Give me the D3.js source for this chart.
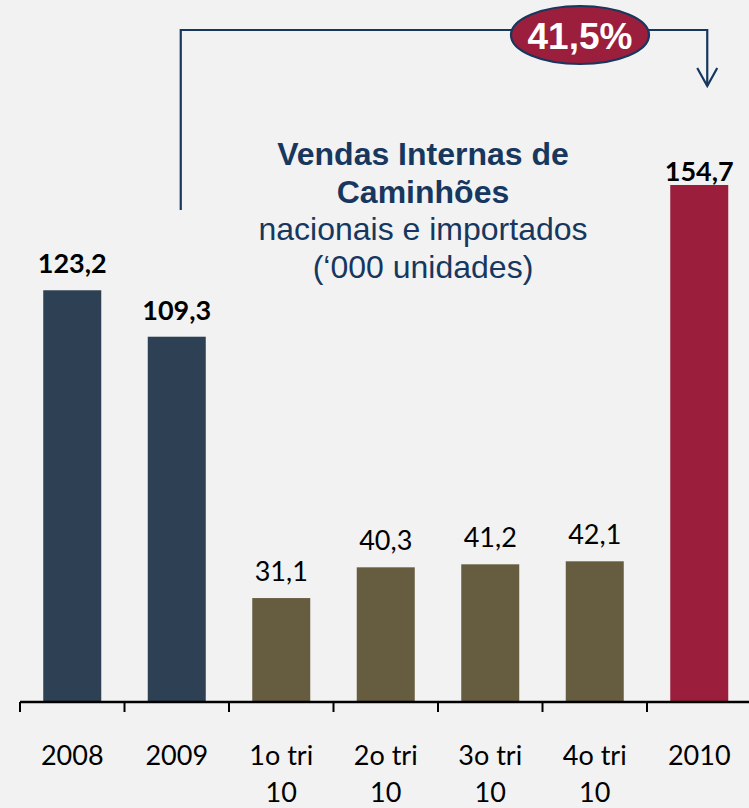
<!DOCTYPE html>
<html>
<head>
<meta charset="utf-8">
<script src="https://cdn.jsdelivr.net/npm/d3@7"></script>
<style>
  body { margin: 0; background: #f2f2f2; }
  svg { display: block; background: #f2f2f2; }
  .val, .tick-label { font-family: Lato, "Open Sans", sans-serif; font-size: 27px; fill: #000; }
  .title { font-family: "Liberation Sans", Arial, sans-serif; font-size: 32px; fill: #17375e; }
</style>
</head>
<body>
<div id="chart"></div>
<script>
// data
var categories = ["2008", "2009", "1o tri 10", "2o tri 10", "3o tri 10", "4o tri 10", "2010"];
var labelLines = [["2008"], ["2009"], ["1o tri", "10"], ["2o tri", "10"], ["3o tri", "10"], ["4o tri", "10"], ["2010"]];
var values = [123.2, 109.3, 31.1, 40.3, 41.2, 42.1, 154.7];
var kinds = ["year", "year", "quarter", "quarter", "quarter", "quarter", "total"];
var growth = "41,5%";
var titleLines = ["Vendas Internas de", "Caminhões", "nacionais e importados", "(‘000 unidades)"];

var width = 749, height = 808;
var colors = { year: "#2e4053", quarter: "#665c3f", total: "#9b1e3c" };
var navy = "#17375e";

var svg = d3.select("#chart").append("svg")
  .attr("width", width)
  .attr("height", height);

var x = d3.scaleBand()
  .domain(categories)
  .range([20, 751.5])
  .padding(0);

var y = d3.scaleLinear()
  .domain([0, 200])
  .range([702, 33.6]);

var barW = x.bandwidth() * 0.555;
function cx(d) { return x(d) + x.bandwidth() / 2; }

// bars
svg.append("g").selectAll("rect")
  .data(categories)
  .enter().append("rect")
  .attr("x", function(d) { return cx(d) - barW / 2; })
  .attr("y", function(d, i) { return y(values[i]); })
  .attr("width", barW)
  .attr("height", function(d, i) { return y(0) - y(values[i]); })
  .attr("fill", function(d, i) { return colors[kinds[i]]; });

// value labels
svg.append("g").selectAll("text")
  .data(categories)
  .enter().append("text")
  .attr("class", "val")
  .attr("x", function(d) { return cx(d); })
  .attr("y", function(d, i) { return y(values[i]) - (kinds[i] == "total" ? 4 : 17); })
  .attr("text-anchor", "middle")
  .style("font-weight", function(d, i) { return kinds[i] == "quarter" ? "normal" : "bold"; })
  .text(function(d, i) { return values[i].toFixed(1).replace(".", ","); });

// x axis: baseline, boundary ticks, two line labels
var axis = svg.append("g");
axis.append("line")
  .attr("x1", x.range()[0]).attr("x2", width)
  .attr("y1", y(0)).attr("y2", y(0))
  .attr("stroke", "#000").attr("stroke-width", 2.5);

axis.selectAll(".tk")
  .data(categories)
  .enter().append("line")
  .attr("x1", function(d) { return x(d); })
  .attr("x2", function(d) { return x(d); })
  .attr("y1", y(0)).attr("y2", y(0) + 10)
  .attr("stroke", "#000").attr("stroke-width", 2);

axis.selectAll(".tick-label")
  .data(categories)
  .enter().append("text")
  .attr("class", "tick-label")
  .attr("text-anchor", "middle")
  .attr("y", y(0) + 63)
  .each(function(d, i) {
    var t = d3.select(this);
    labelLines[i].forEach(function(s, j) {
      t.append("tspan").attr("x", cx(d)).attr("dy", j ? 37 : 0).text(s);
    });
  });

// title block
svg.append("g").selectAll("text")
  .data(titleLines)
  .enter().append("text")
  .attr("class", "title")
  .attr("x", 423)
  .attr("y", function(d, i) { return 165 + i * 37.5; })
  .attr("text-anchor", "middle")
  .style("font-weight", function(d, i) { return i < 2 ? "bold" : "normal"; })
  .text(function(d) { return d; });

// growth bracket from 2009 to 2010
var bx0 = cx("2009") + 4, bx1 = cx("2010") + 8, bTop = 30;
svg.append("path")
  .attr("d", d3.line()([[bx0, 210], [bx0, bTop], [bx1, bTop], [bx1, 86]]))
  .attr("fill", "none").attr("stroke", navy).attr("stroke-width", 2.2);
svg.append("path")
  .attr("d", d3.line()([[bx1 - 10, 68], [bx1, 86], [bx1 + 10, 68]]))
  .attr("fill", "none").attr("stroke", navy).attr("stroke-width", 2.2);

svg.append("ellipse")
  .attr("cx", 580).attr("cy", 35)
  .attr("rx", 69).attr("ry", 29)
  .attr("fill", colors.total)
  .attr("stroke", navy).attr("stroke-width", 2.2);
svg.append("text")
  .attr("x", 580).attr("y", 49)
  .attr("text-anchor", "middle")
  .style("font-family", "'Liberation Sans', Arial, sans-serif")
  .style("font-size", "37px")
  .style("font-weight", "bold")
  .attr("fill", "#fff")
  .text(growth);
</script>
</body>
</html>
